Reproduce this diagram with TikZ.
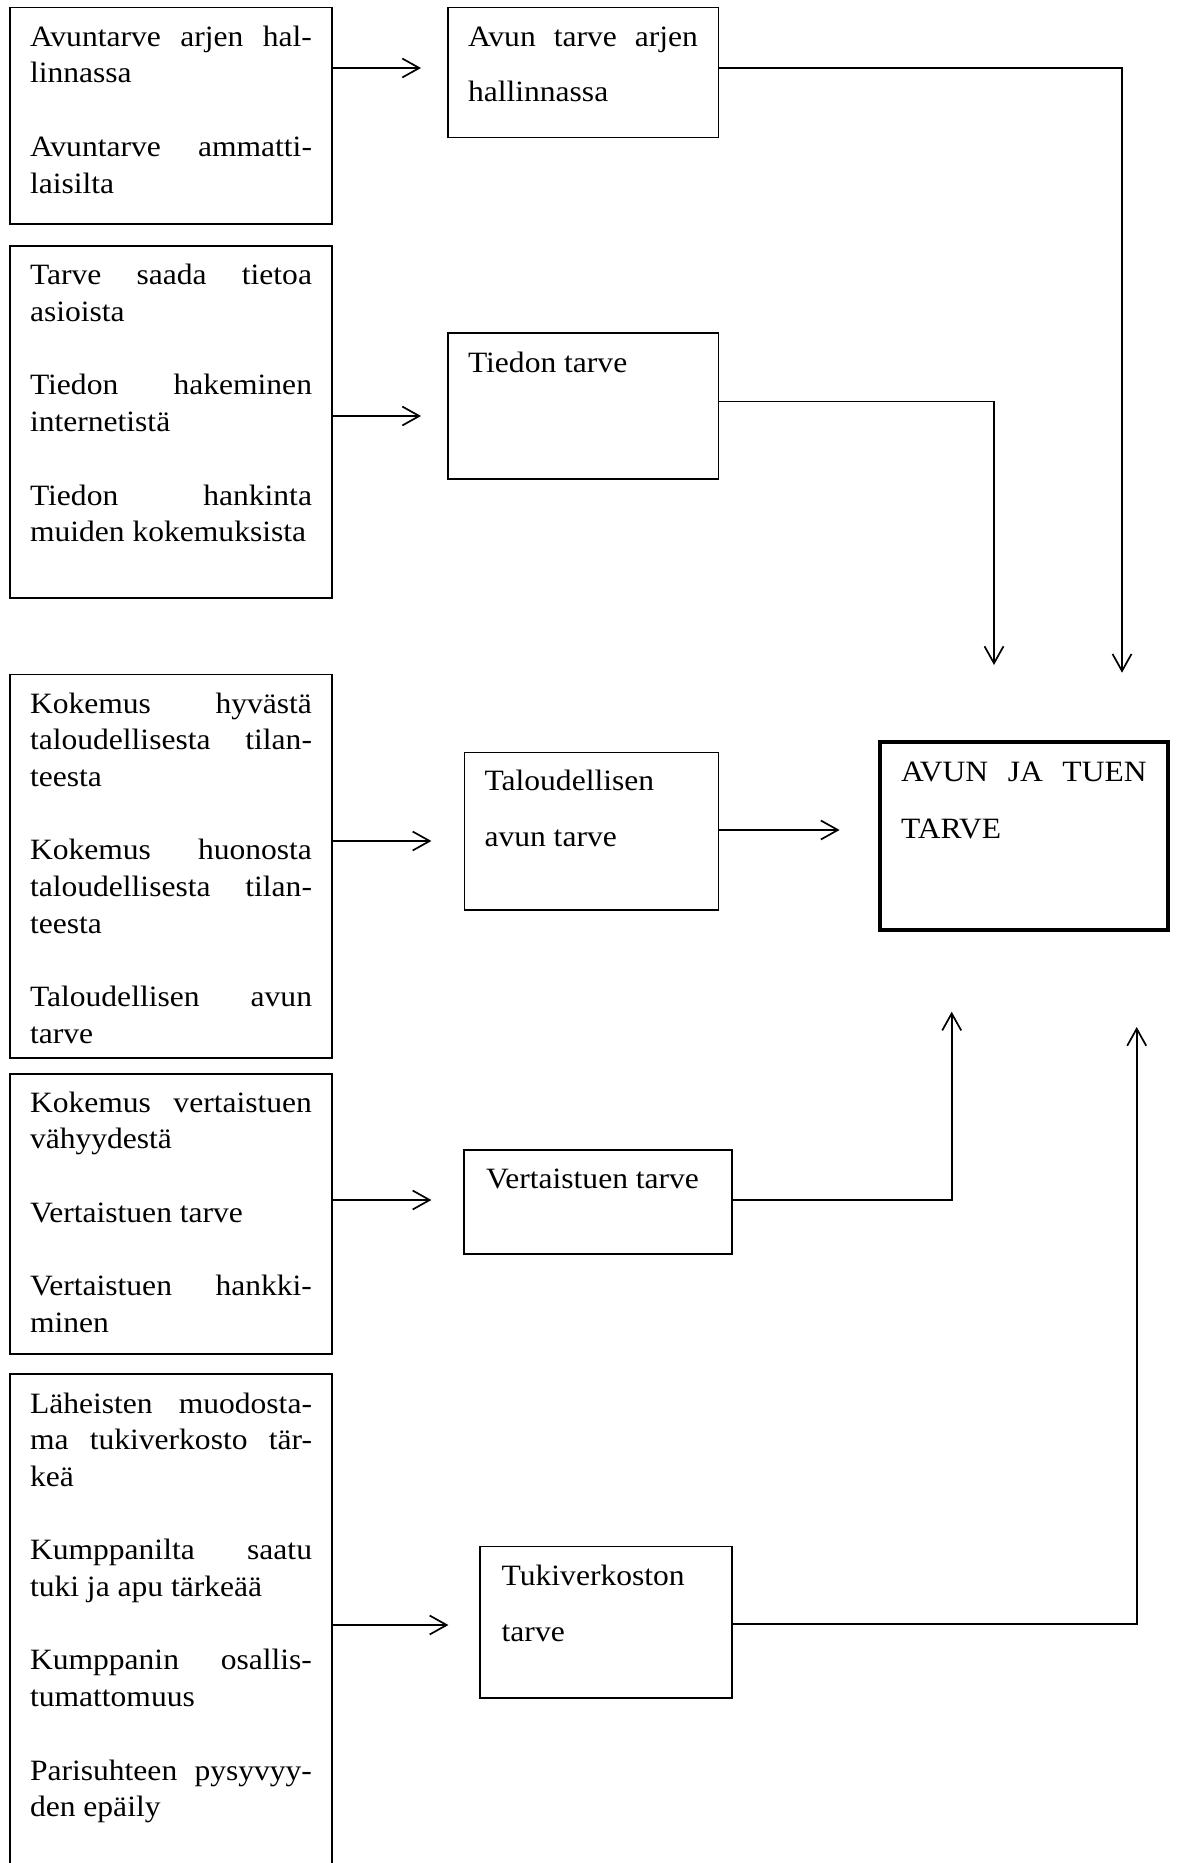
\documentclass[tikz,border=0pt]{standalone}
\usepackage{fontspec}
\setmainfont[FakeStretch=1.07]{Liberation Serif}
\usetikzlibrary{arrows.meta}

% one justified line, one ragged line, one empty line
\newcommand\jl[1]{\hbox to\hsize{\spaceskip=\fontdimen2\font plus 1fil\relax #1}}
\newcommand\lastln[1]{\hbox{#1}}
\newcommand\gapln{\vskip\baselineskip}
% stack of lines: width, line pitch, lines
\newcommand\stack[3]{\vtop{\hsize=#1\relax\baselineskip=#2\relax\lineskiplimit=-100pt\parindent=0pt #3}}

\begin{document}
\begin{tikzpicture}[x=1pt,y=-1pt,
  box/.style={draw, line width=1.4pt, inner sep=0pt, outer sep=0pt, anchor=north west},
  txt/.style={inner sep=0pt, outer sep=0pt, anchor=base west, font=\fontsize{29.5}{36.7}\selectfont},
  conn/.style={line width=1.7pt, -{Straight Barb[length=17pt,width=19pt]}}]

\useasboundingbox (0,0) rectangle (1176,1863);
\clip (0,0) rectangle (1176,1863);

% left column
\node[box, minimum width=322pt, minimum height=216.5pt] (L1) at (10,7.5) {};
\node[box, minimum width=322pt, minimum height=352pt] (L2) at (10,246) {};
\node[box, minimum width=322pt, minimum height=383.5pt] (L3) at (10,674.5) {};
\node[box, minimum width=322pt, minimum height=280pt] (L4) at (10,1074) {};
\node[box, minimum width=322pt, minimum height=520pt] (L5) at (10,1374) {};

% middle column
\node[box, minimum width=270.5pt, minimum height=130.2pt] (M1) at (448,7.5) {};
\node[box, minimum width=270.5pt, minimum height=146pt] (M2) at (448,333) {};
\node[box, minimum width=254pt, minimum height=157.3pt] (M3) at (464.3,752.7) {};
\node[box, minimum width=268pt, minimum height=104pt] (M4) at (464,1150) {};
\node[box, minimum width=252pt, minimum height=151.3pt] (M5) at (480,1546.7) {};

% target
\node[box, line width=4pt, minimum width=288.3pt, minimum height=187.7pt] (T) at (879.7,742) {};

% texts of the left column
\node[txt] (L1t) at ([xshift=20pt,yshift=-38.6pt]L1.north west)
  {\stack{282pt}{36.75pt}{\jl{Avuntarve arjen hal-}\lastln{linnassa}\gapln
   \jl{Avuntarve ammatti-}\lastln{laisilta}}};
\node[txt] (L2t) at ([xshift=20pt,yshift=-38.6pt]L2.north west)
  {\stack{282pt}{36.75pt}{\jl{Tarve saada tietoa}\lastln{asioista}\gapln
   \jl{Tiedon hakeminen}\lastln{internetistä}\gapln
   \jl{Tiedon hankinta}\lastln{muiden kokemuksista}}};
\node[txt] (L3t) at ([xshift=20pt,yshift=-38.6pt]L3.north west)
  {\stack{282pt}{36.7pt}{\jl{Kokemus hyvästä}\jl{taloudellisesta tilan-}\lastln{teesta}\gapln
   \jl{Kokemus huonosta}\jl{taloudellisesta tilan-}\lastln{teesta}\gapln
   \jl{Taloudellisen avun}\lastln{tarve}}};
\node[txt] (L4t) at ([xshift=20pt,yshift=-38.2pt]L4.north west)
  {\stack{282pt}{36.7pt}{\jl{Kokemus vertaistuen}\lastln{vähyydestä}\gapln
   \lastln{Vertaistuen tarve}\gapln
   \jl{Vertaistuen hankki-}\lastln{minen}}};
\node[txt] (L5t) at ([xshift=20pt,yshift=-39pt]L5.north west)
  {\stack{282pt}{36.7pt}{\jl{Läheisten muodosta-}\jl{ma tukiverkosto tär-}\lastln{keä}\gapln
   \jl{Kumppanilta saatu}\lastln{tuki ja apu tärkeää}\gapln
   \jl{Kumppanin osallis-}\lastln{tumattomuus}\gapln
   \jl{Parisuhteen pysyvyy-}\lastln{den epäily}}};

% texts of the middle column
\node[txt] (M1t) at ([xshift=20pt,yshift=-39.2pt]M1.north west)
  {\stack{230pt}{55pt}{\jl{Avun tarve arjen}\lastln{hallinnassa}}};
\node[txt] (M2t) at ([xshift=20pt,yshift=-39pt]M2.north west)
  {\stack{230pt}{55pt}{\lastln{Tiedon tarve}}};
\node[txt] (M3t) at ([xshift=20.2pt,yshift=-37.3pt]M3.north west)
  {\stack{214pt}{56.7pt}{\lastln{Taloudellisen}\lastln{avun tarve}}};
\node[txt] (M4t) at ([xshift=22pt,yshift=-38.3pt]M4.north west)
  {\stack{228pt}{56.7pt}{\lastln{Vertaistuen tarve}}};
\node[txt] (M5t) at ([xshift=21.7pt,yshift=-38.3pt]M5.north west)
  {\stack{212pt}{56.7pt}{\lastln{Tukiverkoston}\lastln{tarve}}};

% text of the target
\node[txt] (Tt) at ([xshift=21.3pt,yshift=-39.7pt]T.north west)
  {\stack{245.7pt}{56.6pt}{\jl{AVUN JA TUEN}\lastln{TARVE}}};

% arrows from the left column
\coordinate (t1) at (421,68);
\draw[conn] (L1.east |- t1) -- (t1);
\coordinate (t2) at (421,416);
\draw[conn] (L2.east |- t2) -- (t2);
\coordinate (t3) at (431.4,841);
\draw[conn] (L3.east |- t3) -- (t3);
\coordinate (t4) at (431.4,1200);
\draw[conn] (L4.east |- t4) -- (t4);
\coordinate (t5) at (448.4,1625);
\draw[conn] (L5.east |- t5) -- (t5);

% arrows towards the target
\coordinate (t6) at (839.6,830);
\draw[conn] (M3.east |- t6) -- (t6);
\coordinate (r1) at (0,68);
\coordinate (t7) at (1122,672.7);
\draw[conn] (M1.east |- r1) -| (t7);
\coordinate (r2) at (0,401.5);
\coordinate (t8) at (994,665);
\draw[conn] (M2.east |- r2) -| (t8);
\coordinate (r3) at (0,1200);
\coordinate (t9) at (951.7,1011.7);
\draw[conn] (M4.east |- r3) -| (t9);
\coordinate (r4) at (0,1624);
\coordinate (t10) at (1136.7,1027);
\draw[conn] (M5.east |- r4) -| (t10);
\end{tikzpicture}
\end{document}
